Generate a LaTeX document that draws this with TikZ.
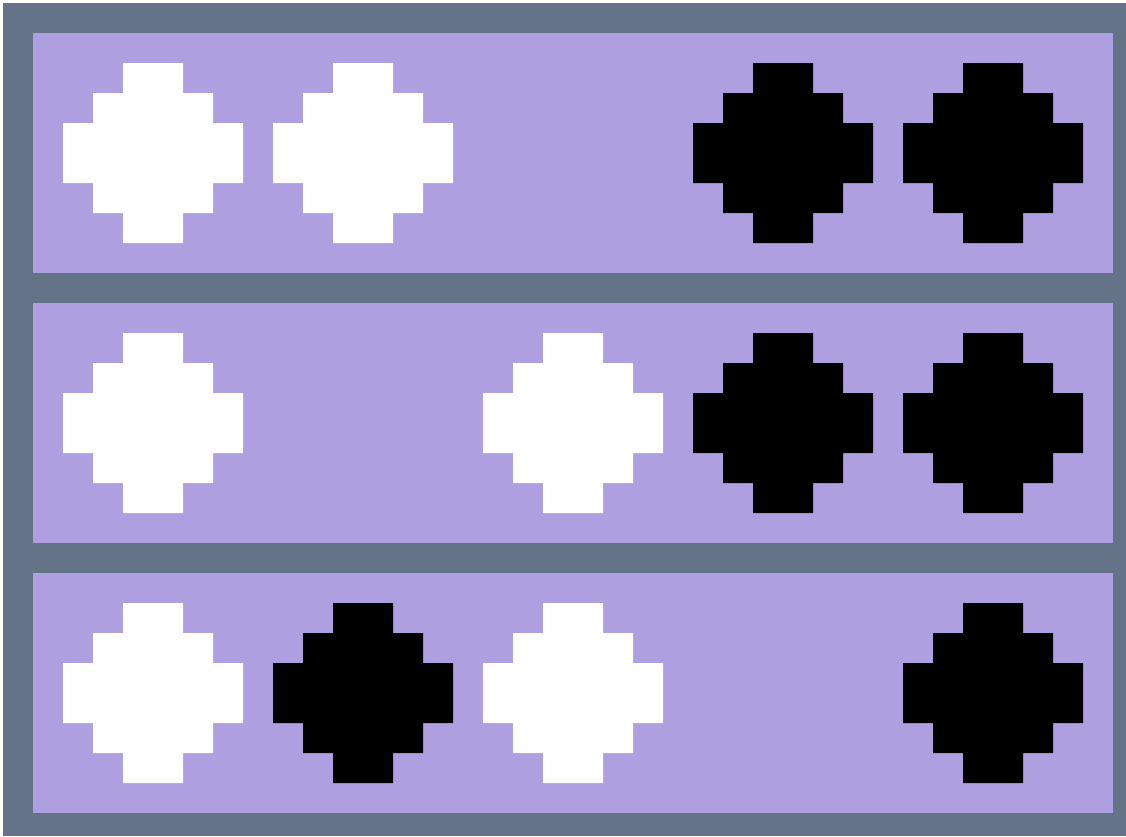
\documentclass[tikz,border=0pt]{standalone}
\usetikzlibrary{positioning}
\definecolor{frame}{HTML}{657388}
\definecolor{lavender}{HTML}{AEA0E0}
\tikzset{
 panel/.style={fill=lavender},
 gem/.pic={
   \path[pic actions] (2,0)--(4,0)--(4,1)--(5,1)--(5,2)--(6,2)--(6,4)--(5,4)
     --(5,5)--(4,5)--(4,6)--(2,6)--(2,5)--(1,5)--(1,4)--(0,4)--(0,2)--(1,2)
     --(1,1)--(2,1)--cycle;
 }
}

\begin{document}
\begin{tikzpicture}[x=1cm,y=-1cm]
\useasboundingbox (0,0) rectangle (37.533,27.867);
\fill[white] (0,0) rectangle (37.533,27.867);
\fill[frame] (0.1,0.1) rectangle (37.533,27.867);
% three rows
\foreach \r in {0,1,2}
  \fill[panel] (1.1,1.1+9*\r) rectangle (37.1,9.1+9*\r);
% row/slot/colour
\foreach \r/\k/\col in {0/0/white,0/1/white,0/3/black,0/4/black,
                        1/0/white,1/2/white,1/3/black,1/4/black,
                        2/0/white,2/1/black,2/2/white,2/4/black}
  \pic[fill=\col] at (2.1+7*\k,2.1+9*\r) {gem};
\end{tikzpicture}
\end{document}
